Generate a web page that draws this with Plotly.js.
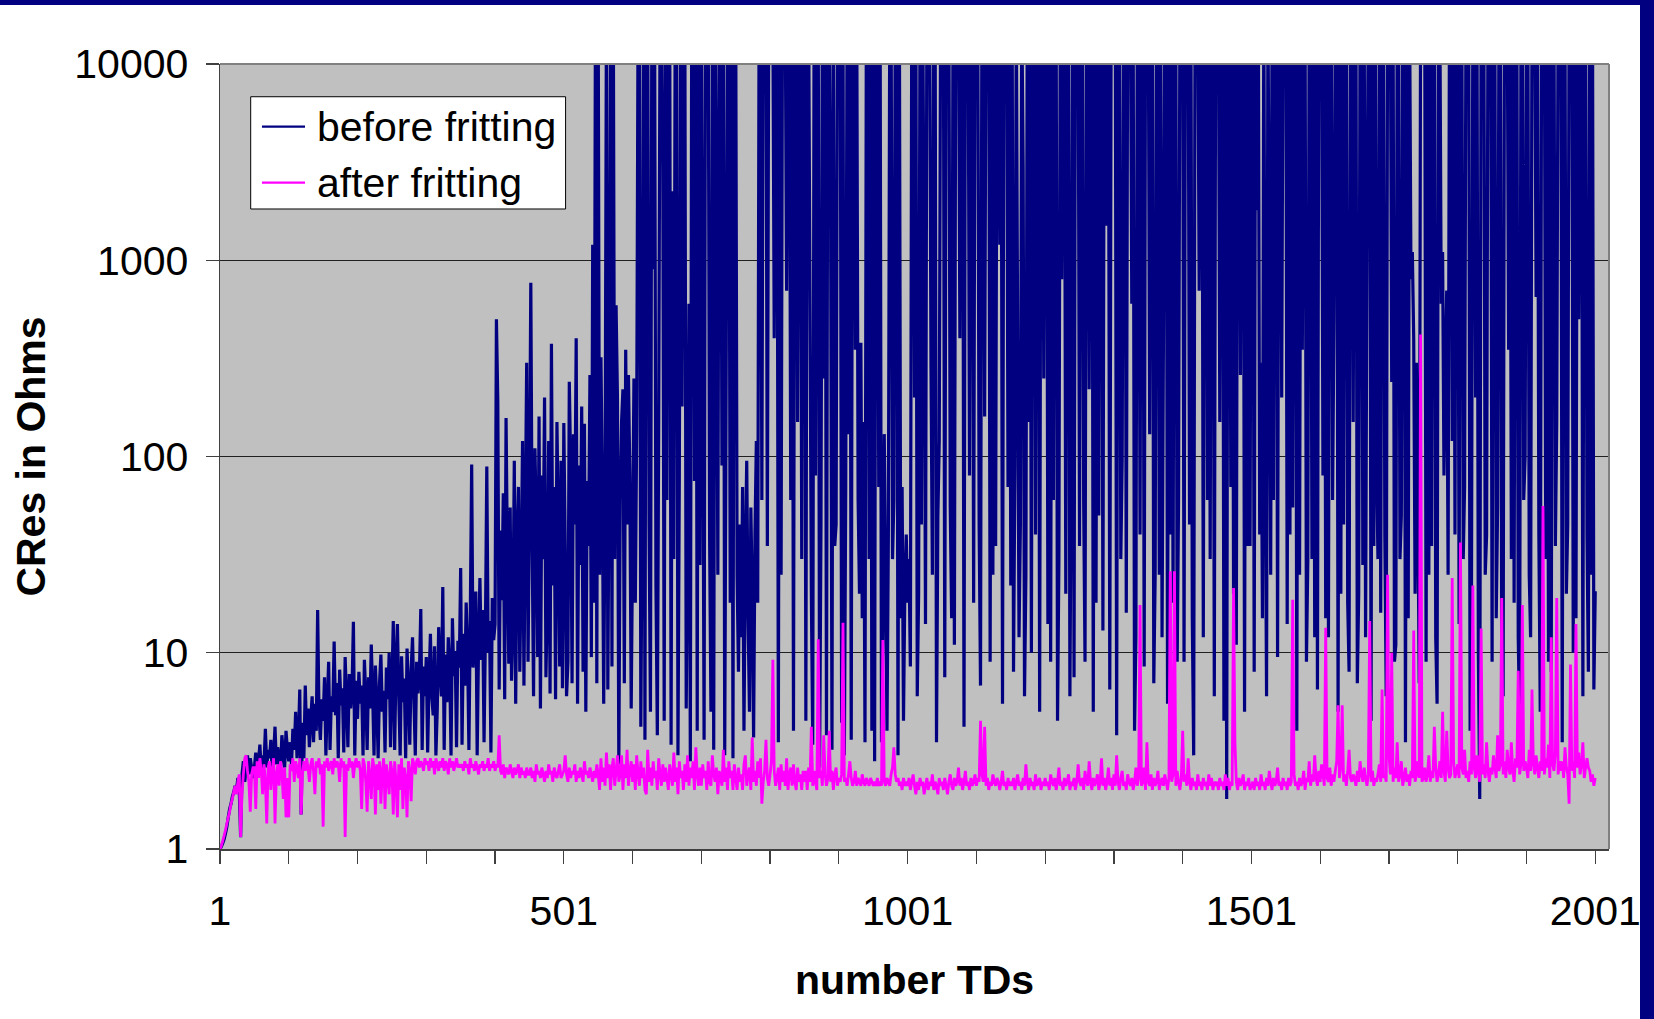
<!DOCTYPE html>
<html>
<head>
<meta charset="utf-8">
<script src="https://cdn.plot.ly/plotly-3.0.1.min.js"></script>
<style>
  html, body { margin: 0; padding: 0; background: #ffffff; overflow: hidden; }
  #frame { position: relative; width: 1654px; height: 1019px; }
  #chart { position: absolute; left: 0; top: 0; width: 1654px; height: 1019px; }
  .band { position: absolute; background: #000080; }
</style>
</head>
<body>
<div id="frame">
  <div id="chart"></div>
  <div class="band" style="left:0;top:0;width:1654px;height:5px"></div>
  <div class="band" style="left:1640px;top:0;width:14px;height:1019px"></div>
</div>
<script>
// Contact resistance (Ohms) per touchdown, one value every second TD (1, 3, 5, ... 2001).
// Readings above the 10000 Ohm scale are stored as 2e4 (open contact).
const TD_STEP = 2;

const beforeFritting = [
  1.0,1.03,1.07,1.12,1.2,1.3,1.45,1.6,1.7,1.85,1.95,2.1,2.0,2.3,2.0,1.15,2.4,2.8,2.2,2.6,3.0,2.4,2.9,2.6,2.3,
  2.6,3.1,2.4,2.8,3.4,2.5,3.0,2.7,4.1,2.6,3.2,2.9,3.6,2.4,3.0,4.2,2.7,3.3,2.9,2.5,3.8,3.1,2.6,4.0,3.2,
  2.8,3.5,2.7,4.1,3.2,5.0,2.9,3.6,6.5,1.5,4.4,2.9,6.8,3.8,5.2,3.3,4.6,6.0,3.5,5.5,4.0,16.5,4.8,3.6,5.8,
  4.5,7.5,3.0,5.6,9.0,3.2,6.0,5.0,11.4,4.8,7.0,2.9,8.2,5.4,6.6,3.1,9.5,5.8,3.3,7.8,5.2,6.4,14.4,3.0,7.2,
  4.6,8.0,5.5,6.8,3.0,9.2,6.0,3.2,7.5,5.2,11.0,6.2,3.0,8.6,5.6,2.9,7.0,9.8,5.0,6.4,3.1,8.4,5.8,10.0,3.3,
  6.8,14.5,3.2,8.8,14.0,6.0,3.0,9.6,5.6,7.4,2.9,10.5,6.6,3.4,8.2,12.0,5.8,3.0,9.0,6.2,7.8,16.7,3.2,8.5,6.0,
  9.5,3.1,7.2,12.5,6.0,4.8,10.8,3.0,5.2,13.5,8.0,6.0,21.6,3.2,9.8,5.6,12.0,8.6,3.0,15.0,7.6,10.2,3.3,11.5,8.4,
  27,3.4,12.5,6.8,18.0,10.5,3.2,15.5,91,8.4,13.0,20.5,3.0,11.0,24.0,9.2,16.5,3.5,12.8,89,10.0,14.5,3.1,19.0,11.6,
  14.0,500,190,6.5,42,18.5,65,5.8,157,30,8.8,55,7.2,14.5,95,5.5,38,70,8.0,26,120,6.8,48,300,9.0,
  60,769,35,6.0,110,48,9.5,160,5.2,80,30,200,7.5,18.0,120,6.2,375,22,70,5.8,150,45,8.5,95,6.6,
  148,35,6.0,9.0,240,85,7.0,130,45,400,5.5,90,28,180,8.0,147,5.0,75,35,260,9.5,1200,18,2e4,7.0,
  2e4,25,320,70,5.5,60,2e4,6.5,110,2e4,8.5,2e4,30,590,200,2.7,60,150,220,7.0,350,45,260,80,5.2,
  35,250,18,140,2e4,2e4,4.2,60,2e4,3.6,2e4,2e4,45,5.0,2e4,900,2e4,22,3.8,150,2e4,2e4,3000,4.5,2e4,
  60,2e4,2e4,3.4,2250,30,2e4,2e4,3.0,80,2e4,180,2e4,2e4,5.2,40,600,2.8,2e4,2e4,75,2e4,4.0,2e4,28,
  2e4,350,3.6,2e4,2e4,2e4,40,5.0,2e4,3.2,2e4,1500,25,2e4,2e4,90,2e4,3.0,220,2e4,2e4,18,2e4,2.9,2e4,
  2e4,25,8.0,45,12,70,4.0,30,95,15,5.0,55,20,3.7,40,120,18,2e4,2e4,60,2e4,2e4,2e4,35,2e4,
  2e4,2e4,2e4,400,2e4,2e4,3.5,2e4,25,2e4,2e4,2e4,700,2e4,2e4,60,2e4,4.0,2e4,2e4,150,2e4,2e4,30,2e4,
  2e4,4.5,2e4,2e4,600,20,3.4,2e4,80,2e4,2e4,2.6,45,2e4,250,2e4,3.8,2e4,2e4,1800,3.2,2e4,35,45,2e4,
  2e4,2e4,4.4,2e4,3.0,70,2e4,130,2e4,3.6,2e4,2e4,350,2e4,60,20,380,15,150,3.5,2e4,2e4,30,2e4,4.0,
  2e4,2.8,2e4,2e4,70,2e4,3.5,12,130,25,4.0,40,2e4,2e4,30,60,2e4,2e4,3.0,2e4,15,70,4.5,22,40,
  18,30,8.5,2e4,2e4,200,2e4,6.0,20,2e4,45,2e4,900,14,2e4,2e4,2e4,280,25,2e4,2e4,3.5,50,120,2e4,
  2e4,2e4,7.5,2e4,2e4,2e4,55,15,2e4,11,2e4,2e4,2e4,400,2e4,2e4,4.2,2e4,2e4,2e4,80,2e4,2e4,18,2e4,
  2e4,2e4,45,6.8,2e4,2e4,160,2e4,2e4,2e4,9.0,2e4,25,2e4,35,2e4,2e4,1200,2e4,5.5,2e4,2e4,2e4,70,2e4,
  22,2e4,8.0,90,2e4,400,12,45,2e4,3000,6.0,25,2e4,150,2e4,10,2e4,2e4,40,2e4,2e4,5.0,2e4,2e4,250,
  2e4,2e4,14,2e4,9.0,2e4,60,2e4,2e4,4.5,30,2e4,800,2e4,2e4,20,2e4,2e4,6.0,110,2e4,7.5,2e4,2e4,2e4,
  35,2e4,2e4,60,9.0,2e4,2e4,220,2e4,2e4,5.0,2e4,18,2e4,50,2e4,2e4,13,2e4,1500,2e4,2e4,6.5,2e4,2e4,
  2e4,2e4,3.8,2e4,2e4,30,95,2e4,2e4,16,2e4,2e4,2e4,600,2e4,4.0,12,2e4,2e4,40,2e4,2e4,8.5,2e4,2e4,
  2e4,130,2e4,2e4,7.0,25,2e4,2e4,25,2e4,12,380,2e4,2e4,5.5,2e4,40,2e4,18,2e4,2e4,9.0,60,2e4,2e4,
  2e4,9.0,2e4,2e4,2e4,45,2e4,15,3.0,2e4,2e4,2e4,700,2e4,2e4,12,2e4,2e4,60,2e4,30,2e4,2e4,6.0,2e4,
  2e4,2e4,150,2e4,2e4,4.5,2e4,1.8,2e4,2e4,70,2e4,20,2e4,11,2e4,2e4,260,2e4,2e4,5.0,2e4,35,2e4,35,
  2e4,2e4,8.0,2e4,1800,2e4,40,300,15,2e4,120,6.0,2e4,900,25,2e4,60,2e4,2e4,9.5,2e4,2e4,200,2e4,2e4,
  2e4,14,2e4,40,2e4,55,2e4,2e4,4.0,2e4,25,2e4,350,2e4,2e4,9.0,30,2e4,2e4,30,2e4,12,2e4,6.5,2e4,
  2e4,2e4,80,2e4,15,2e4,12,2e4,2e4,60,500,2e4,2e4,5.0,2e4,20,2e4,45,2e4,2e4,18,8.0,2e4,2e4,150,
  2e4,2e4,7.0,20,2e4,2e4,28,2e4,12,1200,2e4,2e4,4.5,2e4,35,2e4,90,30,2e4,16,2e4,2e4,40,6.0,2e4,
  2e4,2e4,240,2e4,9.0,11,2e4,2e4,30,50,2e4,2e4,3.5,2e4,15,2e4,800,1100,400,20,300,60,7.0,2e4,2e4,
  2e4,2e4,9.0,2e4,25,2e4,35,2e4,2e4,12,5.5,2e4,2e4,600,1100,80,300,700,25,2e4,2e4,120,2e4,40,2e4,
  2e4,14,2e4,2e4,30,70,2e4,2e4,2e4,4.0,20,2e4,2e4,200,2e4,10,1.8,2e4,2e4,2e4,25,40,2e4,2e4,2e4,
  9.0,2e4,2e4,15,55,2e4,2e4,8.0,6.0,2e4,2e4,2e4,350,2e4,30,2e4,18,2e4,2e4,12,4.5,2e4,2e4,60,100,
  2e4,2e4,25,12,2e4,2e4,2e4,650,2e4,40,5.0,2e4,2e4,2e4,30,2e4,9.0,2e4,8.0,2e4,2e4,35,150,2e4,2e4,
  2e4,3.5,2e4,2e4,20,45,2e4,2e4,2e4,10,2e4,15,2e4,500,2e4,2e4,6.0,2e4,2e4,40,8.0,2e4,25,2e4,6.5,
  20.6
];

const afterFritting = [
  1.0,1.04,1.1,1.17,1.25,1.35,1.45,1.55,1.7,1.8,1.95,2.1,1.9,2.2,2.4,1.15,1.9,2.4,2.9,3.0,2.5,2.2,1.55,2.4,2.6,
  2.6,1.6,2.8,2.3,2.9,2.5,1.9,2.7,2.2,1.35,2.6,2.8,2.0,2.5,2.9,1.35,2.4,2.7,2.1,2.8,2.5,1.8,2.6,1.45,2.3,
  1.45,2.7,2.5,2.9,2.2,2.8,2.6,2.3,2.9,1.5,2.4,2.8,2.5,2.9,2.6,2.2,2.7,2.9,2.5,1.9,2.8,2.6,2.9,2.4,2.7,
  1.3,2.8,2.6,2.9,2.5,2.7,2.8,2.4,2.9,2.6,2.8,2.7,2.2,2.9,2.6,2.8,1.15,2.7,2.5,2.9,2.6,2.8,2.3,2.7,2.9,
  2.6,2.8,2.5,1.6,2.9,2.7,2.2,1.55,2.8,2.4,1.8,2.9,2.6,1.5,2.7,2.0,2.8,1.7,2.5,2.9,1.6,2.7,2.3,1.9,2.8,
  2.5,1.5,2.8,2.2,1.45,2.7,2.0,2.9,1.6,2.6,2.3,1.45,2.8,2.5,1.75,2.9,2.7,2.4,2.8,2.9,2.6,2.8,2.7,2.5,2.9,
  2.7,2.8,2.5,2.9,2.6,2.8,2.4,2.9,2.7,2.5,2.8,2.6,2.9,2.5,2.8,2.7,2.4,2.9,2.6,2.8,2.5,2.7,2.9,2.6,2.7,
  2.6,2.7,2.5,2.8,2.6,2.7,2.4,2.9,2.6,2.7,2.5,2.8,2.6,2.4,2.7,2.6,2.8,2.5,2.7,2.6,2.9,2.5,2.7,2.6,2.8,
  2.5,2.7,2.6,3.8,2.5,2.4,2.7,2.3,2.6,2.5,2.4,2.7,2.5,2.3,2.6,2.4,2.5,2.7,2.3,2.6,2.4,2.5,2.3,2.6,2.4,
  2.4,2.6,2.3,2.5,2.2,2.7,2.4,2.5,2.3,2.6,2.4,2.2,2.5,2.3,2.7,2.4,2.5,2.2,2.6,2.4,2.3,2.5,2.7,2.3,2.4,
  2.5,3.0,2.4,2.2,2.6,2.3,2.5,2.4,2.7,2.2,2.5,2.3,2.6,2.4,2.2,2.8,2.4,2.5,2.3,2.6,2.4,2.2,2.5,2.3,2.7,
  2.4,2.0,2.9,2.2,2.6,2.1,3.1,2.3,2.7,2.0,2.6,2.9,2.1,2.5,3.0,2.2,2.4,3.0,2.0,2.7,2.3,3.2,2.1,2.5,2.8,
  2.2,2.7,2.0,3.0,2.4,2.1,2.8,2.3,2.6,2.0,1.9,3.2,2.2,2.6,2.1,2.8,2.3,2.5,2.0,2.9,2.4,2.1,2.7,2.2,2.6,
  2.3,2.0,2.7,2.4,2.1,3.1,2.2,2.6,1.9,2.8,2.3,2.5,2.0,2.7,2.2,3.0,2.1,2.6,2.3,2.8,2.0,3.3,2.4,2.1,2.6,
  2.1,2.7,2.3,2.5,2.0,2.8,2.2,2.1,3.0,2.4,2.2,2.6,1.9,2.5,2.3,2.1,3.2,2.2,2.6,2.0,2.8,2.3,2.5,2.0,2.7,
  2.3,2.0,2.6,2.2,2.4,2.0,2.7,3.0,2.1,2.4,2.6,2.0,3.7,2.2,2.5,2.1,2.8,2.3,2.9,1.7,2.2,2.5,3.6,2.3,2.1,
  2.4,2.8,9.2,2.5,2.1,2.3,2.6,2.0,2.7,2.2,2.5,2.1,2.9,2.0,2.4,2.6,2.1,2.7,2.2,2.0,2.6,2.2,2.4,2.0,2.5,
  2.2,2.5,2.0,2.6,2.2,4.2,2.1,2.5,2.2,2.0,11.7,2.3,2.5,2.1,3.8,2.4,2.1,2.3,4.0,2.2,2.5,2.0,2.4,2.6,2.1,
  2.3,2.2,2.4,14.2,2.2,2.3,2.1,2.4,2.8,2.3,2.1,2.2,2.5,2.1,2.3,2.2,2.1,2.4,2.2,2.1,2.3,2.2,2.1,2.3,2.2,
  2.1,2.2,2.1,2.3,2.1,2.2,2.1,11.6,2.2,2.1,2.3,2.2,2.1,2.4,2.6,3.3,2.4,2.2,2.3,2.1,2.2,2.0,2.3,2.1,2.2,
  2.1,2.3,2.0,2.2,2.4,2.1,1.9,2.2,2.0,2.3,2.1,2.2,1.9,2.1,2.3,2.0,2.2,2.1,2.4,2.0,2.2,2.1,1.9,2.3,2.1,
  2.2,2.0,2.3,2.1,1.9,2.2,2.4,2.1,2.0,2.3,2.1,2.2,2.6,2.1,2.3,2.0,2.2,2.5,2.1,2.2,2.0,2.3,2.1,2.2,2.4,
  2.1,2.3,2.2,4.5,2.4,2.2,4.2,2.1,2.3,2.0,2.2,2.1,2.4,2.2,2.1,2.3,2.2,2.0,2.2,2.5,2.1,2.2,2.0,2.3,2.1,
  2.2,2.1,2.3,2.0,2.2,2.4,2.1,2.2,2.0,2.3,2.1,2.7,2.2,2.0,2.3,2.1,2.2,2.0,2.4,2.1,2.2,2.3,2.0,2.2,2.1,
  2.3,2.1,2.2,2.0,2.4,2.2,2.1,2.3,2.0,2.2,2.6,2.1,2.2,2.0,2.3,2.1,2.2,2.4,2.0,2.2,2.1,2.3,2.0,2.2,2.7,
  2.2,2.1,2.3,2.0,2.5,2.2,2.1,2.8,2.2,2.0,2.3,2.1,2.2,2.4,2.0,2.2,2.9,2.1,2.3,2.0,2.2,2.6,2.1,2.3,2.0,
  2.4,2.1,3.0,2.2,2.0,2.3,2.5,2.1,2.2,2.0,2.4,2.2,2.1,2.3,2.0,2.2,2.6,2.1,2.3,17.5,2.1,2.2,2.6,2.0,3.5,
  2.2,2.1,2.4,2.0,2.3,2.1,2.2,2.5,2.0,2.2,2.3,2.1,2.4,2.2,2.0,2.3,26,2.2,2.4,26,2.1,2.5,2.2,2.0,2.3,
  4.0,2.2,2.4,2.1,2.9,2.2,2.0,2.3,2.1,2.2,2.0,2.4,2.1,2.2,2.0,2.3,2.1,2.2,2.0,2.4,2.1,2.3,2.0,2.2,2.1,
  2.2,2.0,2.3,2.1,2.2,2.0,2.4,2.1,2.3,2.0,2.2,2.1,21.4,3.5,2.2,2.0,2.3,2.1,2.2,2.4,2.0,2.2,2.1,2.3,2.0,
  2.1,2.2,2.0,2.3,2.1,2.2,2.0,2.4,2.1,2.2,2.0,2.3,2.1,2.5,2.2,2.0,2.3,2.1,2.2,2.6,2.1,2.2,2.0,2.3,2.1,
  2.2,2.0,2.3,2.1,2.2,18.6,2.4,2.1,2.2,2.0,2.3,2.1,2.2,2.5,2.0,2.3,2.2,2.8,2.1,2.4,2.2,3.0,2.3,2.1,2.5,
  2.2,2.7,2.4,2.1,13.4,2.3,2.2,2.6,2.1,2.4,2.2,2.5,2.8,5.4,2.3,2.6,5.4,2.2,2.4,2.1,2.5,3.2,2.3,2.2,2.4,
  2.3,2.1,2.5,2.2,2.8,2.4,2.2,2.6,2.3,2.1,2.4,14.5,2.2,2.5,2.1,2.3,2.2,2.4,2.7,2.2,6.5,2.3,2.4,2.2,25,
  3.0,2.4,10,2.2,2.6,2.3,3.5,2.2,2.4,2.8,2.1,2.3,2.6,2.2,2.4,2.1,2.5,2.3,13,2.2,2.4,2.8,2.3,418,2.2,
  2.3,2.6,2.2,2.4,3.0,2.2,2.5,2.3,4.2,2.6,2.2,2.4,2.8,2.3,5.0,2.5,2.2,4.0,2.6,2.3,2.4,24,2.8,2.3,2.5,
  2.7,2.3,36.5,2.6,2.4,3.2,2.3,2.5,2.2,2.8,2.4,22,2.6,2.3,3.0,2.5,2.2,13.3,2.4,2.7,2.3,3.5,2.5,2.2,2.6,
  2.4,3.0,2.6,2.3,3.8,2.5,2.7,19,2.4,2.8,2.3,3.2,2.6,2.4,3.5,2.5,2.2,2.9,2.6,8.1,2.4,2.7,17.5,2.5,2.8,
  2.6,2.3,3.2,2.5,6.5,2.7,2.4,3.0,2.6,2.3,2.8,2.5,56,2.4,2.9,2.6,3.4,2.3,12,2.7,2.5,3.1,19,2.4,2.8,
  2.5,2.8,2.3,3.3,2.6,2.4,1.7,8.7,2.5,2.8,2.3,14,2.6,3.1,2.4,2.7,3.5,2.3,2.6,2.9,2.6,2.5,2.2,2.4,2.1,
  2.3
];

const seriesNames = ['before fritting', 'after fritting'];
const seriesColors = ['#000080', '#FF00FF'];
const xTickVals = [1,101,201,301,401,501,601,701,801,901,1001,1101,1201,1301,1401,1501,1601,1701,1801,1901,2001];
const xTickText = ['1','','','','','501','','','','','1001','','','','','1501','','','','','2001'];
const yTickVals = [1, 10, 100, 1000, 10000];
const yTickText = ['1', '10', '100', '1000', '10000'];

const tdOf = values => values.map((_, i) => 1 + TD_STEP * i);

const FONT = 'Liberation Sans, Arial, Helvetica, sans-serif';
const TEXT_SIZE = 41;

const traces = [
  {
    type: 'scatter', mode: 'lines', name: seriesNames[0],
    x: tdOf(beforeFritting), y: beforeFritting,
    line: { color: seriesColors[0], width: 3.2, simplify: false },
    hoverinfo: 'skip'
  },
  {
    type: 'scatter', mode: 'lines', name: seriesNames[1],
    x: tdOf(afterFritting), y: afterFritting,
    line: { color: seriesColors[1], width: 2.8, simplify: false },
    hoverinfo: 'skip'
  }
];

// Legend box drawn inside the plot area (paper coordinates of the plot area).
const legendBox = { x0: 0.0221, x1: 0.2488, y0: 0.8153, y1: 0.9583 };
const legendRows = [0.9201, 0.8488];
const legendSample = { x0: 0.0302, x1: 0.0612 };
const legendTextX = 0.0681;

const shapes = [
  // top and right frame of the plot area
  { type: 'line', xref: 'paper', yref: 'paper', x0: 0, x1: 1, y0: 1, y1: 1,
    line: { color: '#808080', width: 2 }, layer: 'above' },
  { type: 'line', xref: 'paper', yref: 'paper', x0: 1, x1: 1, y0: 0, y1: 1,
    line: { color: '#808080', width: 2 }, layer: 'above' },
  // legend
  { type: 'rect', xref: 'paper', yref: 'paper',
    x0: legendBox.x0, x1: legendBox.x1, y0: legendBox.y0, y1: legendBox.y1,
    fillcolor: '#ffffff', line: { color: '#000000', width: 1 }, layer: 'above' }
];
const annotations = [];
seriesNames.forEach((name, k) => {
  shapes.push({ type: 'line', xref: 'paper', yref: 'paper',
    x0: legendSample.x0, x1: legendSample.x1, y0: legendRows[k], y1: legendRows[k],
    line: { color: seriesColors[k], width: 2.2 }, layer: 'above' });
  annotations.push({ xref: 'paper', yref: 'paper', x: legendTextX, y: legendRows[k],
    xanchor: 'left', yanchor: 'middle', showarrow: false, text: name,
    font: { family: FONT, size: TEXT_SIZE, color: '#000000' } });
});

const layout = {
  width: 1654, height: 1019,
  margin: { l: 220, r: 45, t: 64, b: 170, pad: 0 },
  paper_bgcolor: '#ffffff',
  plot_bgcolor: '#C0C0C0',
  font: { family: FONT, size: TEXT_SIZE, color: '#000000' },
  showlegend: false,
  xaxis: {
    type: 'linear', range: [1, 2021], autorange: false,
    tickmode: 'array', tickvals: xTickVals, ticktext: xTickText,
    ticks: 'outside', ticklen: 13, tickwidth: 1.2, tickcolor: '#404040',
    showline: true, linecolor: '#404040', linewidth: 1.5,
    showgrid: false, zeroline: false,
    tickfont: { family: FONT, size: TEXT_SIZE, color: '#000000' },
    ticklabelstandoff: 12,
    title: { text: '<b>number TDs</b>', font: { family: FONT, size: TEXT_SIZE, color: '#000000' }, standoff: 32 },
    automargin: false, fixedrange: true
  },
  yaxis: {
    type: 'log', range: [0, 4], autorange: false,
    tickmode: 'array', tickvals: yTickVals, ticktext: yTickText,
    ticks: 'outside', ticklen: 13, tickwidth: 1.2, tickcolor: '#404040',
    showline: true, linecolor: '#404040', linewidth: 1.5,
    showgrid: true, gridcolor: '#202020', gridwidth: 1,
    zeroline: false,
    tickfont: { family: FONT, size: TEXT_SIZE, color: '#000000' },
    ticklabelstandoff: 9,
    title: { text: '<b>CRes in Ohms</b>', font: { family: FONT, size: TEXT_SIZE, color: '#000000' }, standoff: 16 },
    automargin: false, fixedrange: true
  },
  shapes: shapes,
  annotations: annotations
};

Plotly.newPlot('chart', traces, layout, { staticPlot: true, displayModeBar: false });
</script>
</body>
</html>
